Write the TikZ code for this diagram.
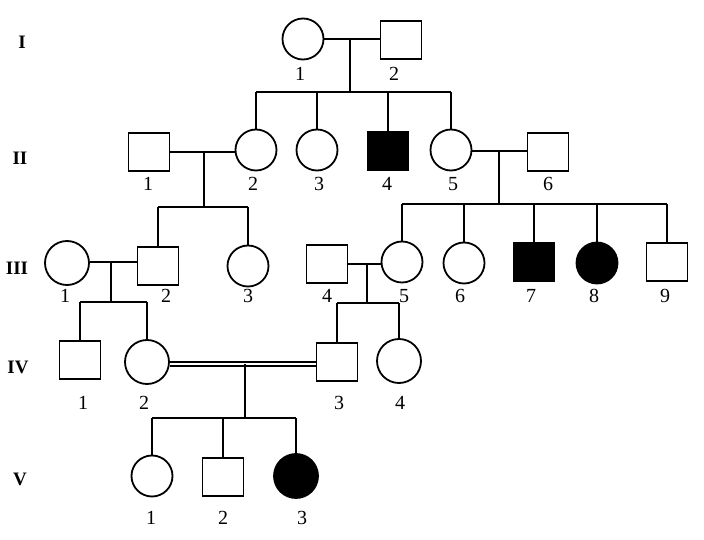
\documentclass[tikz,border=0pt]{standalone}
\usepackage{fontspec}
\setmainfont{Liberation Serif}
\begin{document}
\begin{tikzpicture}[x=1pt,y=-1pt,line width=1.8pt,
  fem/.style={draw,circle,inner sep=0pt,minimum size=41pt},
  femb/.style={fem,minimum size=44pt},
  male/.style={draw,rectangle,inner sep=0pt,minimum width=41pt,minimum height=38pt},
  aff/.style={fill=black},
  lab/.style={font=\fontsize{20}{20}\selectfont,inner sep=0pt},
  gen/.style={font=\fontsize{19}{19}\selectfont\bfseries,inner sep=0pt}]
\useasboundingbox (0,0) rectangle (704,540);
% generation labels
\node[gen] (gI) at (22,42) {I};
\node[gen] (gII) at (20,158) {II};
\node[gen] (gIII) at (17,268) {III};
\node[gen] (gIV) at (18,367) {IV};
\node[gen] (gV) at (20,479) {V};
% Generation I
\node[fem] (I1) at (303,39) {};
\node[male] (I2) at (401,40) {};
\node[lab] (lI1) at (300,74) {1};
\node[lab] (lI2) at (394,74) {2};
% Generation II
\node[male] (II1) at (149,152) {};
\node[fem] (II2) at (256,150) {};
\node[fem] (II3) at (317,150) {};
\node[male,aff] (II4) at (388,151) {};
\node[fem] (II5) at (451,150) {};
\node[male] (II6) at (548,152) {};
\foreach \n/\x in {1/148,2/253,3/319,4/387,5/453,6/548}
  \node[lab] (lII\n) at (\x,184) {\n};
% Generation III
\node[femb] (III1) at (67,263) {};
\node[male] (III2) at (158,266) {};
\node[fem] (III3) at (248,266) {};
\node[male] (III4) at (327,264) {};
\node[fem] (III5) at (402,262) {};
\node[fem] (III6) at (464,263) {};
\node[male,aff] (III7) at (534,262) {};
\node[fem,aff] (III8) at (597,263) {};
\node[male] (III9) at (667,262) {};
\foreach \n/\x in {1/65,2/166,3/248,4/327,5/404,6/460,7/531,8/594,9/665}
  \node[lab] (lIII\n) at (\x,296) {\n};
% Generation IV
\node[male] (IV1) at (80,360) {};
\node[femb] (IV2) at (147,362) {};
\node[male] (IV3) at (337,362) {};
\node[femb] (IV4) at (399,361) {};
\foreach \n/\x in {1/83,2/144,3/339,4/400}
  \node[lab] (lIV\n) at (\x,403) {\n};
% Generation V
\node[fem] (V1) at (152,476) {};
\node[male] (V2) at (223,477) {};
\node[femb,aff] (V3) at (296,476) {};
\foreach \n/\x in {1/151,2/223,3/302}
  \node[lab] (lV\n) at (\x,518) {\n};
% Family I1 x I2
\coordinate (m1) at (350,39);
\coordinate (s1) at (350,92);
\draw (I1.east) -- (I1.east -| I2.west);
\draw (m1) -- (s1);
\draw (s1 -| II2) -- (s1 -| II5);
\foreach \c in {II2,II3,II4,II5} \draw (\c.north) -- (\c.north |- s1);
% Family II1 x II2
\coordinate (m2) at (204,152);
\coordinate (s2) at (204,207);
\draw (II1.east) -- (II1.east -| II2.west);
\draw (m2) -- (s2);
\draw (s2 -| III2) -- (s2 -| III3);
\foreach \c in {III2,III3} \draw (\c.north) -- (\c.north |- s2);
% Family II5 x II6
\coordinate (m3) at (499,151);
\coordinate (s3) at (499,204);
\draw (II5.east |- m3) -- (II6.west |- m3);
\draw (m3) -- (s3);
\draw (s3 -| III5) -- (s3 -| III9);
\foreach \c in {III5,III6,III7,III8,III9} \draw (\c.north) -- (\c.north |- s3);
% Family III1 x III2
\coordinate (m4) at (111,262);
\coordinate (s4) at (111,302);
\draw (III1.east |- m4) -- (III2.west |- m4);
\draw (m4) -- (s4);
\draw (s4 -| IV1) -- (s4 -| IV2);
\foreach \c in {IV1,IV2} \draw (\c.north) -- (\c.north |- s4);
% Family III4 x III5
\coordinate (m5) at (367,264);
\coordinate (s5) at (367,303);
\draw (III4.east |- m5) -- (III5.west |- m5);
\draw (m5) -- (s5);
\draw (s5 -| IV3) -- (s5 -| IV4);
\foreach \c in {IV3,IV4} \draw (\c.north) -- (\c.north |- s5);
% Consanguineous IV2 x IV3
\coordinate (m6) at (245,364);
\coordinate (s6) at (245,418);
\draw[line width=1.4pt,double distance=2.6pt] (IV2.east |- m6) -- (IV3.west |- m6);
\draw (m6) -- (s6);
\draw (s6 -| V1) -- (s6 -| V3);
\foreach \c in {V1,V2,V3} \draw (\c.north) -- (\c.north |- s6);
\end{tikzpicture}
\end{document}
